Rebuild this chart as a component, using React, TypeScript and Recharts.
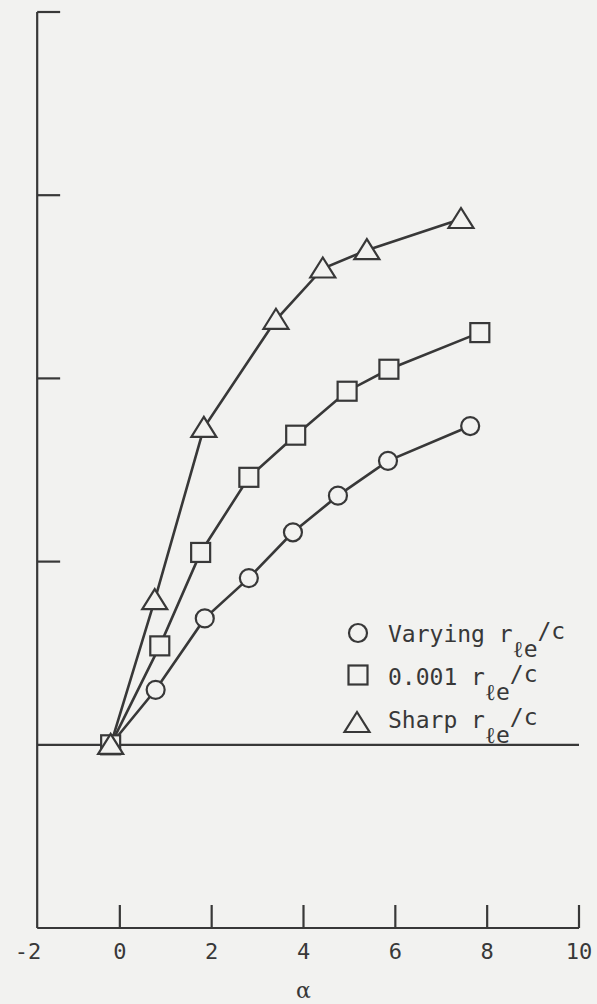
import React from 'react';
import { LineChart, Line, XAxis, YAxis, ReferenceLine } from 'recharts';

const INK = '#383838';
const BG = '#f2f2f0';
const MONO = '"DejaVu Sans Mono", monospace';

// alpha values and responses
const alphaCircle = [-0.2, 0.78, 1.85, 2.81, 3.77, 4.75, 5.84, 7.63];
const valsCircle = [0, 0.3, 0.69, 0.91, 1.16, 1.36, 1.55, 1.74];
const alphaSquare = [-0.2, 0.87, 1.76, 2.81, 3.83, 4.95, 5.86, 7.84];
const valsSquare = [0, 0.54, 1.05, 1.46, 1.69, 1.93, 2.05, 2.25];
const alphaTri = [-0.2, 0.76, 1.83, 3.4, 4.42, 5.38, 7.43];
const valsTri = [0, 0.79, 1.73, 2.32, 2.6, 2.7, 2.87];

const xTicks = [-2, 0, 2, 4, 6, 8, 10];
const yTicks = [1, 2, 3, 4];
const yAxisAt = -1.8;

const toRows = (xs: number[], ys: number[]) => xs.map((a, i) => ({ a, v: ys[i] }));
const circleData = toRows(alphaCircle, valsCircle);
const squareData = toRows(alphaSquare, valsSquare);
const triData = toRows(alphaTri, valsTri);

const Circle = (p: any) => (
  <circle key={p.index} cx={p.cx} cy={p.cy} r={9} fill={BG} stroke={INK} strokeWidth={2.2} />
);
const Square = (p: any) => (
  <rect key={p.index} x={p.cx - 9.5} y={p.cy - 9.5} width={19} height={19} fill={BG} stroke={INK} strokeWidth={2.2} />
);
const Tri = (p: any) => (
  <polygon
    key={p.index}
    points={`${p.cx},${p.cy - 11} ${p.cx - 12.5},${p.cy + 9} ${p.cx + 12.5},${p.cy + 9}`}
    fill={BG}
    stroke={INK}
    strokeWidth={2.2}
    strokeLinejoin="miter"
  />
);

const XTick = (props: any) => {
  const { x, y, payload } = props;
  return (
    <g>
      {payload.value !== -2 && (
        <line x1={x} y1={y} x2={x} y2={y - 23} stroke={INK} strokeWidth={2.2} />
      )}
      <text x={x} y={y + 31} textAnchor="middle" fontFamily={MONO} fontSize={22} fill={INK}>
        {payload.value}
      </text>
    </g>
  );
};

export default function App() {
  return (
    <div style={{ position: 'absolute', left: 0, top: 0, width: 597, height: 1004, background: BG }}>
      <LineChart
        width={597}
        height={1004}
        margin={{ top: 12, right: 18, bottom: 0, left: 28 }}
      >
        <XAxis
          type="number"
          dataKey="a"
          domain={[-2, 10]}
          ticks={xTicks}
          interval={0}
          allowDataOverflow
          axisLine={false}
          tickLine={false}
          tickSize={0}
          tickMargin={0}
          height={76}
          tick={<XTick />}
          label={{ value: 'α', position: 'insideBottom', offset: 6, fontSize: 22, fill: INK, fontFamily: 'DejaVu Serif' }}
        />
        <YAxis type="number" dataKey="v" domain={[-1, 4]} hide />
        <ReferenceLine segment={[{ x: yAxisAt, y: -1 }, { x: yAxisAt, y: 4 }]} stroke={INK} strokeWidth={2.2} />
        <ReferenceLine segment={[{ x: yAxisAt, y: -1 }, { x: 10, y: -1 }]} stroke={INK} strokeWidth={2.2} />
        <ReferenceLine segment={[{ x: yAxisAt, y: 0 }, { x: 10, y: 0 }]} stroke={INK} strokeWidth={2.2} />
        {yTicks.map((t) => (
          <ReferenceLine
            key={t}
            segment={[{ x: yAxisAt, y: t }, { x: yAxisAt + 0.5, y: t }]}
            stroke={INK}
            strokeWidth={2.2}
          />
        ))}
        <Line data={circleData} dataKey="v" type="linear" stroke={INK} strokeWidth={2.6} dot={Circle} activeDot={false} isAnimationActive={false} />
        <Line data={squareData} dataKey="v" type="linear" stroke={INK} strokeWidth={2.6} dot={Square} activeDot={false} isAnimationActive={false} />
        <Line data={triData} dataKey="v" type="linear" stroke={INK} strokeWidth={2.6} dot={Tri} activeDot={false} isAnimationActive={false} />
      </LineChart>

      {/* Legend */}
      <svg width={597} height={1004} style={{ position: 'absolute', left: 0, top: 0, pointerEvents: 'none' }}>
        <circle cx={358} cy={633} r={9} fill={BG} stroke={INK} strokeWidth={2.2} />
        <rect x={348.5} y={665.5} width={19} height={19} fill={BG} stroke={INK} strokeWidth={2.2} />
        <polygon points="357,712 344.5,732 369.5,732" fill={BG} stroke={INK} strokeWidth={2.2} />
        <g fontFamily={MONO} fontSize={23} fill={INK}>
          <text x={388} y={642}>
            Varying r<tspan dy={15}>ℓe</tspan><tspan dy={-18}>/c</tspan>
          </text>
          <text x={388} y={685}>
            0.001 r<tspan dy={15}>ℓe</tspan><tspan dy={-18}>/c</tspan>
          </text>
          <text x={388} y={728}>
            Sharp r<tspan dy={15}>ℓe</tspan><tspan dy={-18}>/c</tspan>
          </text>
        </g>
      </svg>
    </div>
  );
}
